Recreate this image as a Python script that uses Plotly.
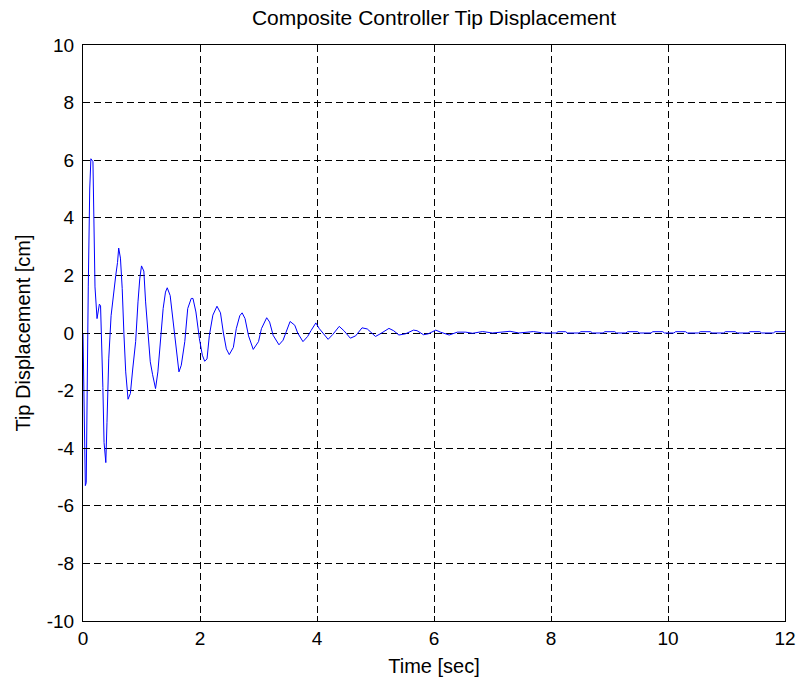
import plotly.graph_objects as go

# Time samples (s) and tip displacement (cm)
time_s = [
    0.0, 0.01, 0.025, 0.04, 0.055, 0.065, 0.09, 0.115, 0.135, 0.17, 0.19, 0.205,
    0.24, 0.265, 0.28, 0.30, 0.315, 0.34, 0.36, 0.39, 0.41, 0.44, 0.48, 0.52,
    0.56, 0.59, 0.61, 0.64, 0.67, 0.70, 0.73, 0.77, 0.81, 0.85, 0.90, 0.94,
    0.97, 1.00, 1.04, 1.07, 1.11, 1.15, 1.19, 1.24, 1.28, 1.33, 1.37, 1.41,
    1.44, 1.49, 1.54, 1.58, 1.64, 1.68, 1.74, 1.79, 1.85, 1.88, 1.93, 1.99,
    2.04, 2.08, 2.12, 2.16, 2.22, 2.29, 2.35, 2.40, 2.45, 2.50, 2.57, 2.62,
    2.68, 2.72, 2.77, 2.83, 2.91, 3.00, 3.05, 3.14, 3.19, 3.25, 3.35, 3.42,
    3.48, 3.54, 3.62, 3.67, 3.76, 3.84, 3.90, 3.98, 4.04, 4.10, 4.19, 4.27,
    4.38, 4.46, 4.57, 4.66, 4.77, 4.86, 5.00, 5.08, 5.23, 5.31, 5.40, 5.51,
    5.65, 5.71, 5.82, 5.90, 6.03, 6.11, 6.26, 6.40, 6.54, 6.66, 6.83, 7.00,
    7.30, 7.45, 7.70, 7.87,
    8.09, 8.12, 8.25, 8.28, 8.48, 8.51, 8.68, 8.71, 8.89, 8.92, 9.09, 9.12,
    9.28, 9.31, 9.48, 9.51, 9.71, 9.74, 9.91, 9.94, 10.10, 10.13, 10.30, 10.33,
    10.52, 10.55, 10.72, 10.75, 10.95, 10.98, 11.15, 11.18, 11.37, 11.40, 11.57,
    11.60, 11.80, 11.83, 12.0,
]
tip_cm = [
    0.0, -1.4, -4.2, -5.3, -5.2, -2.85, 1.6, 5.0, 6.05, 5.95, 4.1, 1.6,
    0.5, 0.85, 1.0, 0.95, 0.05, -1.9, -3.8, -4.5, -3.1, -0.9, 0.6, 1.4,
    2.0, 2.45, 2.95, 2.6, 1.55, -0.05, -1.35, -2.3, -2.1, -1.25, -0.3, 1.08,
    1.88, 2.33, 2.15, 1.08, -0.05, -1.0, -1.45, -1.93, -1.35, -0.05, 0.85, 1.42,
    1.57, 1.3, 0.38, -0.42, -1.35, -1.12, -0.3, 0.85, 1.2, 1.2, 0.73, -0.2,
    -0.77, -0.98, -0.9, -0.08, 0.62, 0.93, 0.7, 0.0, -0.55, -0.75, -0.5, 0.15,
    0.6, 0.7, 0.5, -0.1, -0.57, -0.3, 0.15, 0.53, 0.38, -0.08, -0.41, -0.25,
    0.09, 0.4, 0.27, 0.0, -0.3, -0.12, 0.09, 0.35, 0.15, 0.0, -0.22, -0.05,
    0.23, 0.08, -0.18, -0.1, 0.18, 0.14, -0.12, -0.03, 0.16, 0.08, -0.07, -0.03,
    0.1, 0.08, -0.06, -0.03, 0.1, 0.03, -0.07, 0.03, 0.03, -0.01, 0.05, 0.0,
    0.06, 0.0, 0.05, 0.0,
    0.0, 0.045, 0.045, 0.0, 0.0, 0.045, 0.045, 0.0, 0.0, 0.045, 0.045, 0.0,
    0.0, 0.045, 0.045, 0.0, 0.0, 0.045, 0.045, 0.0, 0.0, 0.045, 0.045, 0.0,
    0.0, 0.045, 0.045, 0.0, 0.0, 0.045, 0.045, 0.0, 0.0, 0.045, 0.045,
    0.0, 0.0, 0.045, 0.045,
]

x_ticks = [0, 2, 4, 6, 8, 10, 12]
y_ticks = [-10, -8, -6, -4, -2, 0, 2, 4, 6, 8, 10]

FONT = "Liberation Sans, Arial, sans-serif"

fig = go.Figure()
fig.add_trace(go.Scatter(
    x=time_s, y=tip_cm, mode="lines",
    line=dict(color="#0000FF", width=1),
    showlegend=False,
))

axis_common = dict(
    showline=True, linecolor="black", linewidth=1, mirror="ticks",
    ticks="inside", ticklen=5, tickcolor="black",
    showgrid=True, gridcolor="black", gridwidth=1, griddash="7px,4px",
    zeroline=False, automargin=False,
    tickfont=dict(family=FONT, size=19, color="black"),
)

fig.update_layout(
    width=804, height=682,
    margin=dict(l=83, r=19, t=45, b=61),
    paper_bgcolor="white", plot_bgcolor="white",
    title=dict(text="Composite Controller Tip Displacement",
               x=(83 + 785) / 2 / 804, xanchor="center",
               y=1 - 18 / 682, yanchor="middle",
               font=dict(family=FONT, size=21, color="black")),
    xaxis=dict(range=[0, 12], tickvals=x_ticks,
               ticktext=[str(v) for v in x_ticks],
               title=dict(text="Time [sec]", standoff=11,
                          font=dict(family=FONT, size=20, color="black")),
               **axis_common),
    yaxis=dict(range=[-10, 10], tickvals=y_ticks,
               ticktext=[str(v) for v in y_ticks],
               ticklabelstandoff=4,
               title=dict(text="Tip Displacement [cm]", standoff=10,
                          font=dict(family=FONT, size=20, color="black")),
               **axis_common),
)

fig.write_html("out.html")
